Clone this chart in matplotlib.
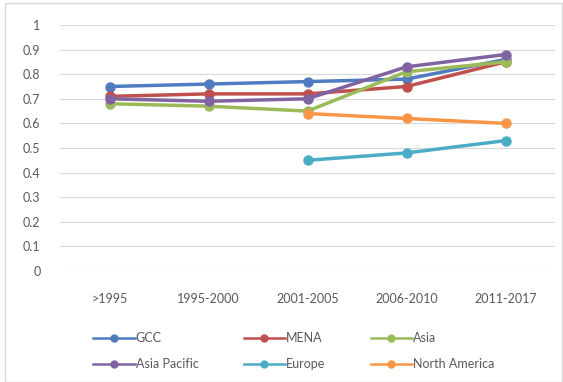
import numpy as np
import matplotlib.pyplot as plt

periods = ['>1995', '1995-2000', '2001-2005', '2006-2010', '2011-2017']
gcc = [0.75, 0.76, 0.77, 0.78, 0.86]
mena = [0.71, 0.72, 0.72, 0.75, 0.85]
asia = [0.68, 0.67, 0.65, 0.81, 0.85]
asia_pacific = [0.70, 0.69, 0.70, 0.83, 0.88]
europe = [np.nan, np.nan, 0.45, 0.48, 0.53]
north_america = [np.nan, np.nan, 0.64, 0.62, 0.60]

series = [('GCC', gcc, '#4F7CC0'),
          ('MENA', mena, '#C0504D'),
          ('Asia', asia, '#9BBB59'),
          ('Asia Pacific', asia_pacific, '#8064A2'),
          ('Europe', europe, '#4BACC6'),
          ('North America', north_america, '#F79646')]

plt.rcParams['font.family'] = ['Lato', 'DejaVu Sans']

fig = plt.figure(figsize=(5.63, 3.82), dpi=100)
ax = fig.add_axes([60/563, 1-271/382, 495/563, 246/382])

x = np.arange(len(periods))
for name, vals, col in series:
    ax.plot(x, vals, color=col, lw=2.5, marker='o', ms=6.5, label=name)

ax.set_xlim(-0.5, len(periods) - 0.5)
ax.set_ylim(0, 1)
ax.set_yticks(np.arange(0, 1.01, 0.1))
ax.set_yticklabels(['0', '0.1', '0.2', '0.3', '0.4', '0.5', '0.6', '0.7', '0.8', '0.9', '1'])
ax.set_xticks(x)
ax.set_xticklabels(periods)
ax.yaxis.grid(color='#D9D9D9', lw=0.8)
ax.set_axisbelow(True)
for s in ax.spines.values():
    s.set_visible(False)
ax.tick_params(length=0, labelsize=9, colors='#595959')
ax.tick_params(axis='x', pad=16)
ax.tick_params(axis='y', pad=14)

# order legend row-wise like the original
handles, labels = ax.get_legend_handles_labels()
order = [0, 3, 1, 4, 2, 5]
leg = fig.legend([handles[i] for i in order], [labels[i] for i in order],
                 loc='center left', bbox_to_anchor=(82/563, 1-351/382), ncol=3, frameon=False,
                 fontsize=9, handlelength=3.3, handletextpad=0.1, columnspacing=3.6,
                 labelcolor='#595959', labelspacing=1.1)
for ln in leg.get_lines():
    ln.set_linewidth(1.8)
    ln.set_markersize(5)

# chart area border
fig.patches.append(plt.Rectangle((5/563, 0.0), 557/563, 1-3/382, transform=fig.transFigure,
                                 fill=False, edgecolor='#D9D9D9', lw=1))

fig.savefig('out.png', dpi=100)
